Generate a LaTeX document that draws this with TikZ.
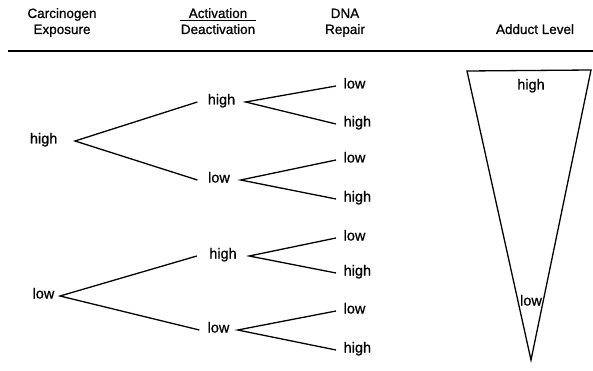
\documentclass[tikz,border=0pt]{standalone}
\usepackage{fontspec}
\setmainfont[FakeBold=0.8]{Liberation Sans}
\begin{document}
\begin{tikzpicture}[x=1pt,y=-1pt, line width=1.3pt,
  lbl/.style={font=\fontsize{14.5}{17}\selectfont, inner ysep=0pt, inner xsep=0pt, text height=8pt, text depth=3pt},
  hdr/.style={font=\fontsize{13.5}{17}\selectfont, inner sep=0pt, anchor=base},
  leaf/.style={lbl, anchor=west, inner xsep=7pt},
  mid/.style={lbl}]
\useasboundingbox (0,0) rectangle (593,371);

% headers
\node[hdr] (hc1) at (62,18) {Carcinogen};
\node[hdr] (hc2) at (62,34) {Exposure};
\node[hdr] (ha1) at (218,18) {Activation};
\node[hdr] (ha2) at (218,34) {Deactivation};
\draw[line width=1pt] (ha2.west |- 0,21) -- (ha2.east |- 0,21);
\node[hdr] (hd1) at (345,18) {DNA};
\node[hdr] (hd2) at (345,34) {Repair};
\node[hdr] (hl) at (535,34) {Adduct Level};
\coordinate (rl) at (8,51);
\coordinate (rr) at (593,51);
\draw (rl) -- (rr);

% level 0
\node[lbl, anchor=east, inner xsep=17pt] (a) at (75,141) {high};
\node[lbl, anchor=east, inner xsep=5pt] (b) at (60,296) {low};

% level 1
\node[mid, minimum width=47pt] (a1) at (221.5,102) {high};
\node[mid, minimum width=42pt] (a2) at (219,180) {low};
\node[mid, minimum width=51pt] (b1) at (223,256) {high};
\node[mid, minimum width=37pt] (b2) at (218.5,330) {low};

% leaves
\node[leaf] (a11) at (336,86) {low};
\node[leaf] (a12) at (336,124) {high};
\node[leaf] (a21) at (336,160) {low};
\node[leaf] (a22) at (336,199) {high};
\node[leaf] (b11) at (336,238) {low};
\node[leaf] (b12) at (336,273) {high};
\node[leaf] (b21) at (336,311) {low};
\node[leaf] (b22) at (336,350) {high};

% branches
\draw (a1.west) -- (a.east) -- (a2.west);
\draw (b1.west) -- (b.east) -- (b2.west);
\draw (a11.west) -- (a1.east) -- (a12.west);
\draw (a21.west) -- (a2.east) -- (a22.west);
\draw (b11.west) -- (b1.east) -- (b12.west);
\draw (b21.west) -- (b2.east) -- (b22.west);

% adduct level wedge
\draw[line join=miter] (467,71) -- (591,70) -- (531,360) -- cycle;
\node[lbl] (th) at (531,87) {high};
\node[lbl] (tl) at (531,303) {low};
\end{tikzpicture}
\end{document}
